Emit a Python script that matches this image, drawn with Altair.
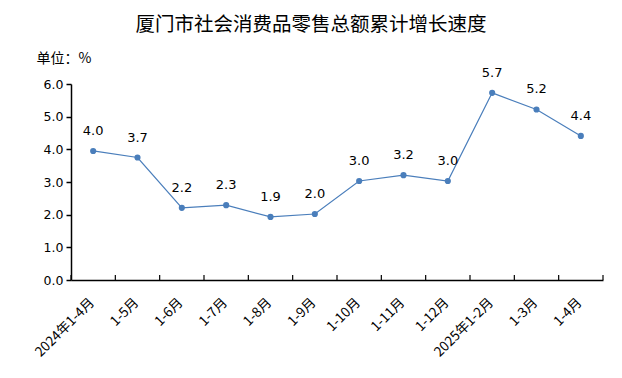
import altair as alt
import pandas as pd

categories = ["2024年1-4月", "1-5月", "1-6月", "1-7月", "1-8月", "1-9月",
              "1-10月", "1-11月", "1-12月", "2025年1-2月", "1-3月", "1-4月"]
values = [3.95, 3.75, 2.21, 2.29, 1.93, 2.02, 3.03, 3.21, 3.03, 5.73, 5.22, 4.41]
labels = ["4.0", "3.7", "2.2", "2.3", "1.9", "2.0", "3.0", "3.2", "3.0", "5.7", "5.2", "4.4"]

df = pd.DataFrame({"cat": categories, "val": values, "lab": labels})

W, H = 532, 196
COLOR = "#4a7ebb"
NUMFONT = "DejaVu Sans"
CJK = "Noto Sans CJK SC"

x_axis = alt.Axis(title=None, labelAngle=-45, labelAlign="right", labelBaseline="middle",
                  labelFont=CJK, labelFontSize=13.5, labelColor="#000",
                  labelOverlap=False, labelOffset=-1,
                  ticks=False, domainColor="#000", domainWidth=1.5,
                  labelPadding=20)
y_axis = alt.Axis(title="单位：%", titleAngle=0, titleAlign="left", titleBaseline="middle",
                  titleX=-35, titleY=-26, titleFont=CJK, titleFontSize=14,
                  titleFontWeight="normal", titleColor="#000",
                  values=[0, 1, 2, 3, 4, 5, 6], format=".1f", grid=False,
                  labelOverlap=False,
                  labelFont=NUMFONT, labelFontSize=12.5, labelColor="#000",
                  domainColor="#000", domainWidth=1.5, tickColor="#000",
                  tickSize=5, tickWidth=1.5, labelPadding=3)
xscale = alt.Scale(paddingInner=0, paddingOuter=0)
yscale = alt.Scale(domain=[0, 6], nice=False)


def xe(bp=None):
    if bp is None:
        return alt.X("cat:N", sort=categories, scale=xscale, axis=x_axis)
    return alt.X("cat:N", sort=categories, scale=xscale, axis=x_axis, bandPosition=bp)


ye = alt.Y("val:Q", scale=yscale, axis=y_axis)

base = alt.Chart(df)

line = base.mark_line(color=COLOR, strokeWidth=1.2).encode(x=xe(), y=ye)
pts = base.mark_point(filled=True, color=COLOR, size=38, opacity=1).encode(x=xe(), y=ye)
txt = base.mark_text(dy=-20, font=NUMFONT, fontSize=13, color="#000").encode(
    x=xe(), y=ye, text="lab:N")

ticks = base.mark_rule(color="#000", strokeWidth=1.2).encode(
    x=xe(0), y=alt.value(H), y2=alt.value(H - 5))
end_tick = alt.Chart(df.tail(1)).mark_rule(color="#000", strokeWidth=1.2).encode(
    x=xe(1), y=alt.value(H), y2=alt.value(H - 5))

chart = alt.layer(line, ticks, end_tick, pts, txt).properties(
    width=W, height=H,
    background="white",
    view=alt.ViewBackground(stroke="transparent", strokeWidth=0),
    title=alt.TitleParams("厦门市社会消费品零售总额累计增长速度", font=CJK, fontSize=19.5,
                          fontWeight="normal", color="#000", anchor="middle", dx=-26, offset=16),
    autosize=alt.AutoSizeParams(type="none"),
    padding={"left": 71, "top": 84, "right": 19, "bottom": 98},
).configure_view(strokeWidth=0, stroke="transparent")

chart.save("out.html", embed_options={"renderer": "svg", "actions": False})
